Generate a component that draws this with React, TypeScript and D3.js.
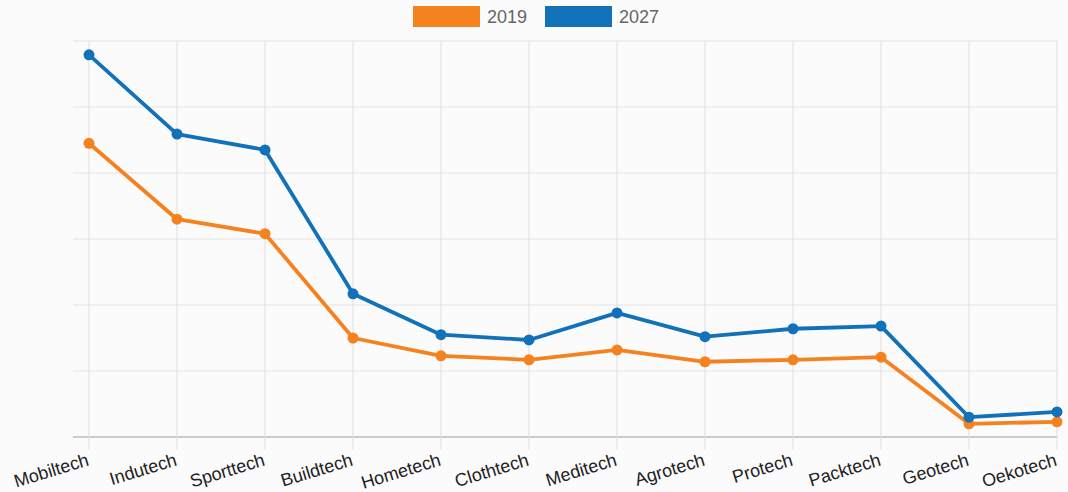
import React from "react";
import * as d3 from "d3";

const categories = ["Mobiltech", "Indutech", "Sporttech", "Buildtech", "Hometech", "Clothtech", "Meditech", "Agrotech", "Protech", "Packtech", "Geotech", "Oekotech"];
const values2019 = [4.45, 3.3, 3.08, 1.5, 1.23, 1.17, 1.32, 1.14, 1.17, 1.21, 0.2, 0.23];
const values2027 = [5.79, 4.59, 4.35, 2.17, 1.55, 1.47, 1.88, 1.52, 1.64, 1.68, 0.3, 0.38];
const seriesNames = ["2019", "2027"];
const seriesColors = ["#f5821f", "#1172b9"];
const yTicks = [0, 1, 2, 3, 4, 5, 6];

const W = 1068, H = 492;
const left = 73, right = 1057, top = 41, bottom = 437;

export default function App() {
  const x = d3.scalePoint<string>().domain(categories).range([89, 1057]);
  const y = d3.scaleLinear().domain([0, 6]).range([bottom, top]);
  const line = d3.line<number>().x((_, i) => x(categories[i])!).y((d) => y(d));
  const series = [values2019, values2027];
  return (
    <svg width={W} height={H} style={{ position: "absolute", left: 0, top: 0, background: "#fcfbfc" }} fontFamily="Liberation Sans, Arial, sans-serif">
      {yTicks.map((t) => (
        <line key={t} x1={left} x2={right} y1={y(t)} y2={y(t)} stroke={t === 0 ? "#bdbdbd" : "#e2e2e2"} strokeWidth={t === 0 ? 1.5 : 1} />
      ))}
      {categories.map((c) => (
        <line key={c} x1={x(c)} x2={x(c)} y1={top} y2={bottom + 13} stroke="#dedede" strokeWidth={1} />
      ))}
      {categories.map((c) => (
        <text key={c} transform={`translate(${x(c)! - 1},${bottom + 22}) rotate(-17)`} textAnchor="end" fontSize={18} fill="#222" dy="0.35em">{c}</text>
      ))}
      {series.map((s, k) => (
        <g key={k}>
          <path d={line(s)!} fill="none" stroke={seriesColors[k]} strokeWidth={3.8} strokeLinejoin="round" />
          {s.map((v, i) => (
            <circle key={i} cx={x(categories[i])} cy={y(v)} r={5.5} fill={seriesColors[k]} />
          ))}
        </g>
      ))}
      {seriesNames.map((n, k) => (
        <g key={n} transform={`translate(${413 + k * 132},6)`}>
          <rect width={67} height={21} fill={seriesColors[k]} />
          <text x={74} y={11} dy="0.35em" fontSize={18} fill="#666">{n}</text>
        </g>
      ))}
    </svg>
  );
}
